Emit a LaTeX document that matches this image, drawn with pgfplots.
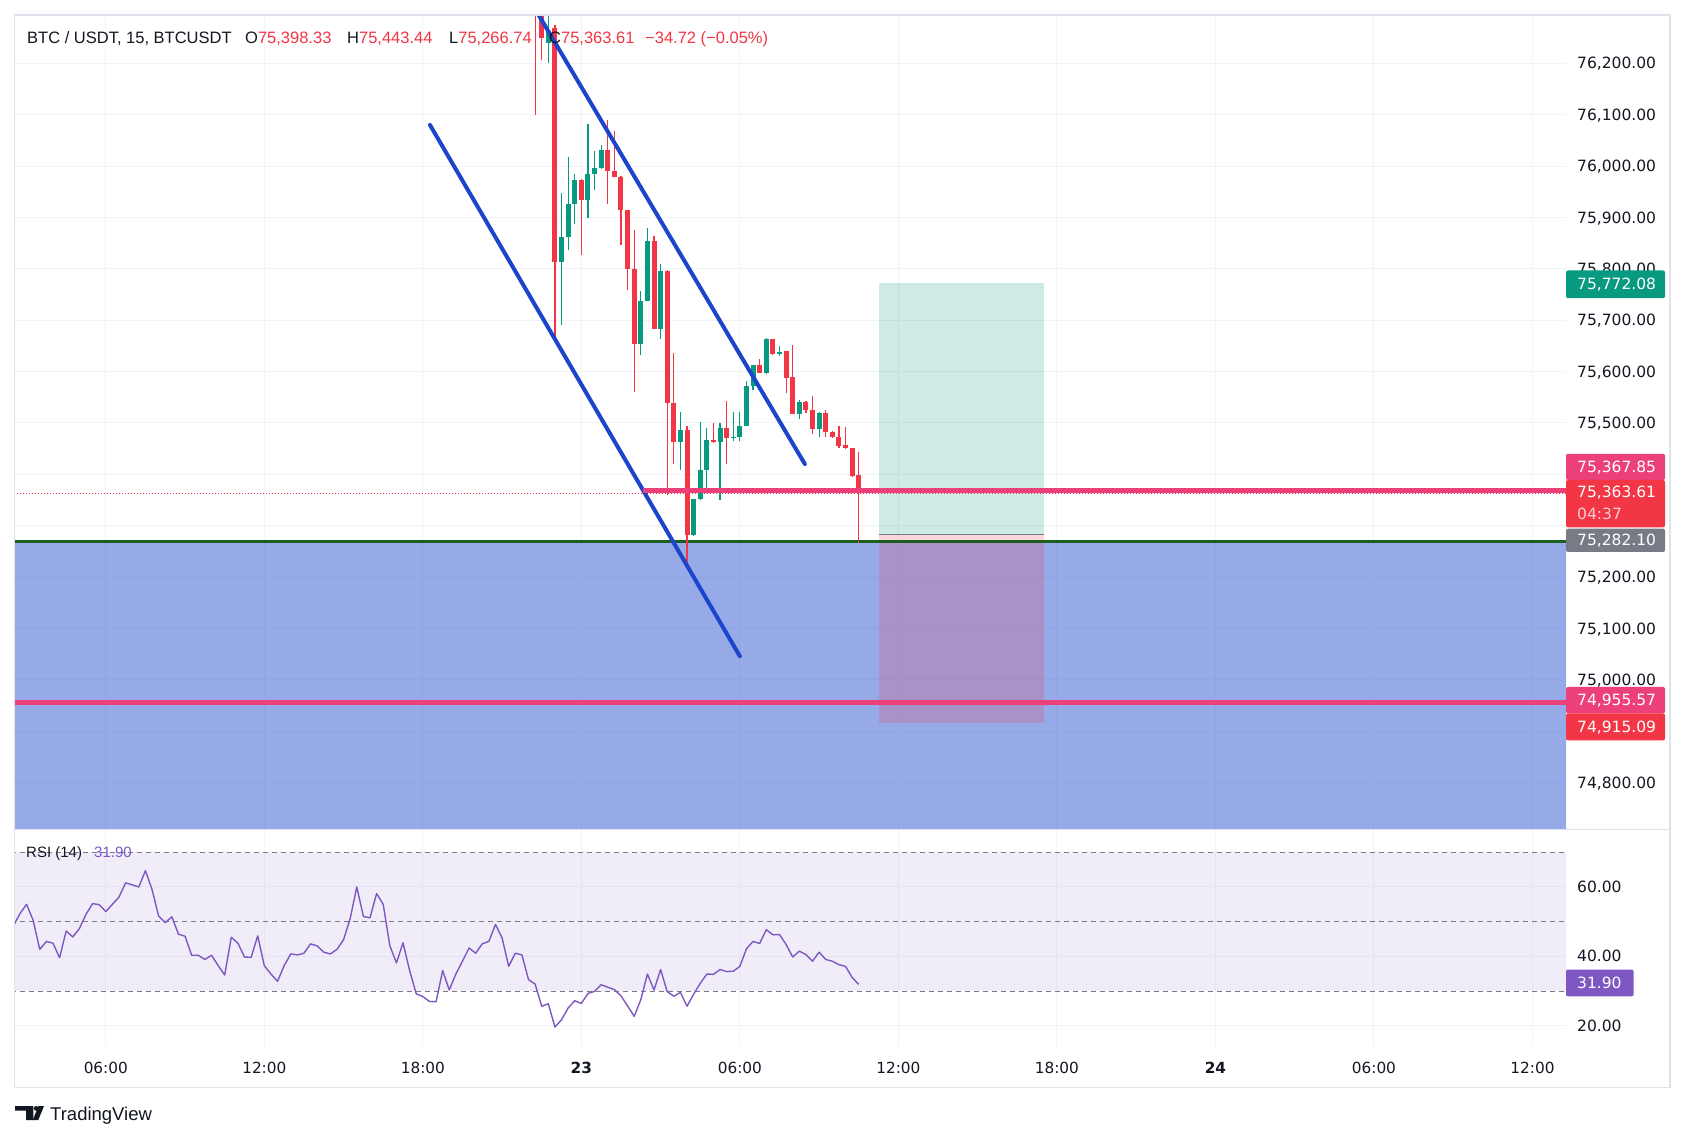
\documentclass[border=0pt]{standalone}
\usepackage{fontspec}
\setmainfont{DejaVu Sans}
\newfontfamily\lib{Liberation Sans}
\usepackage{pgfplots}
\pgfplotsset{compat=1.18}
\usepackage{pgfplotstable}

\definecolor{tvgreen}{RGB}{8,153,129}
\definecolor{tvred}{RGB}{242,54,69}
\definecolor{tvpink}{RGB}{236,64,122}
\definecolor{tvblue}{RGB}{28,68,204}
\definecolor{zoneblue}{RGB}{41,82,208}
\definecolor{gridc}{RGB}{240,243,250}
\definecolor{borderc}{RGB}{224,227,235}
\definecolor{txt}{RGB}{19,23,34}
\definecolor{tvgray}{RGB}{120,123,134}
\definecolor{rsic}{RGB}{126,87,194}
\definecolor{darkgreen}{RGB}{27,94,32}

% 15-minute candles, t in hours from 22 Apr 00:00
\pgfplotstableread{
t o h l c
22.75 76239 76300 76200 76262
23.25 75813 75948 75691 75861
23.5 75861 76018 75836 75927
23.75 75927 75985 75887 75973
24.25 75933 76081 75898 75984
24.5 75984 76029 75953 75996
24.75 75996 76041 75995 76032
26.25 75654 75756 75632 75737
26.5 75737 75880 75737 75855
27.0 75682 75810 75663 75796
27.75 75463 75521 75409 75486
28.25 75282 75352 75280 75352
28.5 75352 75502 75350 75408
28.75 75408 75490 75371 75467
29.25 75462 75500 75351 75491
29.75 75470 75521 75464 75472
30.0 75472 75521 75464 75495
30.25 75495 75581 75494 75572
30.5 75572 75612 75565 75612
31.0 75598 75666 75596 75663
31.5 75635 75649 75631 75638
32.25 75518 75544 75507 75540
33.0 75488 75521 75472 75520
}\greentab

\pgfplotstableread{
t o h l c
22.25 76400 76420 76099 76310
22.5 76310 76330 76206 76249
23.0 76268 76275 75668 75813
24.0 75973 75975 75827 75933
25.0 76032 76089 75926 75991
25.25 75991 76069 75978 75978
25.5 75978 75980 75847 75915
25.75 75915 75915 75758 75800
26.0 75800 75875 75561 75654
26.75 75855 75864 75682 75682
27.25 75796 75798 75360 75539
27.5 75539 75637 75421 75463
28.0 75486 75495 75224 75282
29.0 75467 75500 75460 75462
29.5 75491 75542 75420 75470
30.75 75612 75624 75598 75598
31.25 75663 75664 75633 75635
31.75 75640 75641 75558 75588
32.0 75589 75651 75518 75518
32.5 75540 75542 75520 75525
32.75 75525 75553 75479 75488
33.25 75520 75526 75472 75483
33.5 75483 75484 75471 75472
33.75 75472 75495 75451 75456
34.0 75458 75492 75450 75451
34.25 75451 75452 75395 75397
34.5 75398.33 75443.44 75266.74 75363.61
}\redtab

\pgfplotstableread{
t r
2.5 48.7
2.75 52.3
3.0 55.0
3.25 50.4
3.5 42.0
3.75 44.3
4.0 43.8
4.25 39.6
4.5 47.3
4.75 45.6
5.0 48.0
5.25 52.1
5.5 55.2
5.75 54.9
6.0 52.9
6.25 55.0
6.5 57.1
6.75 61.2
7.0 60.6
7.25 60.0
7.5 64.7
7.75 59.3
8.0 51.6
8.25 49.7
8.5 51.4
8.75 46.4
9.0 45.8
9.25 40.3
9.5 40.3
9.75 39.1
10.0 40.3
10.25 37.4
10.5 34.6
10.75 45.5
11.0 43.8
11.25 39.8
11.5 39.7
11.75 45.9
12.0 37.3
12.25 34.9
12.5 32.8
12.75 37.3
13.0 40.7
13.25 40.4
13.5 40.9
13.75 43.6
14.0 43.0
14.25 41.2
14.5 40.7
14.75 42.0
15.0 44.8
15.25 50.9
15.5 60.0
15.75 51.5
16.0 51.1
16.25 58.1
16.5 55.0
16.75 43.1
17.0 38.1
17.25 43.9
17.5 35.9
17.75 29.2
18.0 28.4
18.25 27.0
18.5 26.9
18.75 35.9
19.0 30.3
19.25 34.9
19.5 38.6
19.75 42.4
20.0 40.9
20.25 43.6
20.5 44.3
20.75 49.2
21.0 45.3
21.25 37.1
21.5 40.9
21.75 40.4
22.0 33.3
22.25 32.0
22.5 25.6
22.75 26.3
23.0 19.6
23.25 21.7
23.5 25.1
23.75 27.2
24.0 26.4
24.25 29.3
24.5 29.9
24.75 31.8
25.0 31.1
25.25 30.4
25.5 28.6
25.75 25.7
26.0 22.7
26.25 27.5
26.5 34.9
26.75 30.3
27.0 36.2
27.25 29.8
27.5 28.5
27.75 29.6
28.0 25.6
28.25 29.1
28.5 32.2
28.75 34.9
29.0 34.8
29.25 36.2
29.5 35.6
29.75 35.7
30.0 37.1
30.25 42.2
30.5 44.3
30.75 43.7
31.0 47.7
31.25 46.2
31.5 46.3
31.75 43.4
32.0 39.8
32.25 41.5
32.5 40.5
32.75 38.6
33.0 41.2
33.25 39.1
33.5 38.6
33.75 37.6
34.0 37.1
34.25 33.9
34.5 31.9
}\rsitab

\newcommand{\pf}{\fontsize{15.5}{18}\selectfont}

\begin{document}
\begin{tikzpicture}[x=1pt,y=1pt]
\fill[white] (0,0) rectangle (1685,1141);

% ---------- main price pane ----------
\begin{axis}[
  at={(15pt,312pt)}, anchor=south west, scale only axis,
  width=1551pt, height=814pt,
  xmin=2.563, xmax=61.27, ymin=74709.7, ymax=76294,
  scaled y ticks=false, scaled x ticks=false,
  axis line style={draw=none}, major tick length=0pt, minor tick length=0pt,
  xtick={6,12,18,24,30,36,42,48,54,60}, xticklabel=\empty,
  ytick={74800,75000,75100,75200,75500,75600,75700,75800,75900,76000,76100,76200},
  yticklabels={{74,800.00},{75,000.00},{75,100.00},{75,200.00},{75,500.00},{75,600.00},{75,700.00},{75,800.00},{75,900.00},{76,000.00},{76,100.00},{76,200.00}},
  minor ytick={74900,75300,75400},
  grid=both,
  major grid style={gridc, line width=1pt},
  minor grid style={gridc, line width=1pt},
  yticklabel pos=right,
  yticklabel style={anchor=base west, inner sep=0pt, xshift=11pt, yshift=-5.6pt, font=\pf, text=txt},
]
% blue zone
\addplot[draw=none, fill=zoneblue, fill opacity=0.486] coordinates {(2.4,75270) (61.4,75270) (61.4,74650) (2.4,74650)};
% long position tool
\addplot[draw=none, fill=tvgreen, fill opacity=0.2] coordinates {(35.25,75772.08) (41.5,75772.08) (41.5,75282.10) (35.25,75282.10)};
\addplot[draw=none, fill=tvred, fill opacity=0.2] coordinates {(35.25,75282.10) (41.5,75282.10) (41.5,74915.09) (35.25,74915.09)};
\addplot[tvgray, line width=1pt] coordinates {(35.25,75282.10) (41.5,75282.10)};
% dark green level
\addplot[darkgreen, line width=3pt] coordinates {(2.4,75270) (61.4,75270)};
% current price dotted line
\addplot[tvred, line width=1pt, dash pattern=on 1pt off 2pt] coordinates {(2.4,75363.61) (61.4,75363.61)};
% candles: wicks
\addplot[tvgreen, line width=1.2pt, quiver={u=0, v=\thisrow{h}-\thisrow{l}}] table[x=t, y=l] \greentab;
\addplot[tvred, line width=1.2pt, quiver={u=0, v=\thisrow{h}-\thisrow{l}}] table[x=t, y=l] \redtab;
% candles: bodies
\addplot[tvgreen, line width=5pt, quiver={u=0, v=\thisrow{c}-\thisrow{o}}] table[x=t, y=o] \greentab;
\addplot[tvred, line width=5pt, quiver={u=0, v=\thisrow{c}-\thisrow{o}}] table[x=t, y=o] \redtab;
% channel
\addplot[tvblue, line width=4pt, line cap=round] coordinates {(18.27,76080) (30.0,75046)};
\addplot[tvblue, line width=4pt, line cap=round] coordinates {(21.9,76336) (32.46,75420)};
% pink levels
\addplot[tvpink, line width=5.3pt] coordinates {(26.35,75367.85) (61.4,75367.85)};
\addplot[tvpink, line width=5.3pt] coordinates {(2.4,74955.57) (61.4,74955.57)};
\end{axis}

% ---------- RSI pane ----------
\begin{axis}[
  at={(15pt,95pt)}, anchor=south west, scale only axis,
  width=1551pt, height=216pt,
  xmin=2.563, xmax=61.27, ymin=14.14, ymax=76.43,
  scaled y ticks=false, scaled x ticks=false,
  axis line style={draw=none}, major tick length=0pt,
  xtick={6,12,18,24,30,36,42,48,54,60},
  xticklabels={06:00,12:00,18:00,\textbf{23},06:00,12:00,18:00,\textbf{24},06:00,12:00},
  xticklabel style={anchor=base, yshift=-27.3pt, font=\fontsize{15.3}{18}\selectfont, text=txt},
  ytick={20,40,60}, yticklabels={20.00,40.00,60.00},
  grid=major, major grid style={gridc, line width=1pt},
  yticklabel pos=right,
  yticklabel style={anchor=base west, inner sep=0pt, xshift=11pt, yshift=-5.6pt, font=\pf, text=txt},
]
\addplot[draw=none, fill=rsic, fill opacity=0.1] coordinates {(2.4,30) (61.4,30) (61.4,70) (2.4,70)};
\addplot[tvgray, line width=1pt, dash pattern=on 5pt off 4pt] coordinates {(2.4,70) (61.4,70)};
\addplot[tvgray, line width=1pt, dash pattern=on 5pt off 4pt] coordinates {(2.4,50) (61.4,50)};
\addplot[tvgray, line width=1pt, dash pattern=on 5pt off 4pt] coordinates {(2.4,30) (61.4,30)};
\addplot[rsic, line width=1.4pt, line join=round] table[x=t, y=r] \rsitab;
\end{axis}

% ---------- frame ----------
\draw[borderc, line width=1.5pt] (14.5,53.3) rectangle (1670,1126);
\draw[borderc, line width=1.5pt] (14.5,311.5) -- (1670,311.5);

% ---------- header ----------
\begin{scope}[every node/.style={anchor=base west, inner sep=0pt, font=\lib\fontsize{16.5}{19}\selectfont}]
\node[text=txt] at (27,1097.3) {BTC / USDT, 15, BTCUSDT};
\node at (245,1097.3) {\textcolor{txt}{O}\textcolor{tvred}{75,398.33}};
\node at (347,1097.3) {\textcolor{txt}{H}\textcolor{tvred}{75,443.44}};
\node at (449,1097.3) {\textcolor{txt}{L}\textcolor{tvred}{75,266.74}};
\node at (549,1097.3) {\textcolor{txt}{C}\textcolor{tvred}{75,363.61}};
\node[text=tvred] at (645,1097.3) {−34.72 (−0.05\%)};
\end{scope}
\begin{scope}[every node/.style={anchor=base west, inner sep=0pt, font=\lib\fontsize{15}{18}\selectfont}]
\node[text=txt] at (26,283.5) {RSI (14)};
\node[text=rsic] at (94,283.5) {31.90};
\end{scope}

% ---------- price scale labels ----------
\begin{scope}[every node/.style={anchor=base west, inner sep=0pt, font=\pf, text=white}]
\fill[tvgreen, rounded corners=2pt] (1566,870.5) rectangle (1665,842.8);
\node at (1577,851.0) {75,772.08};
\fill[tvpink, rounded corners=2pt] (1566,687.2) rectangle (1665,661);
\node at (1577,668.5) {75,367.85};
\fill[tvred, rounded corners=2pt] (1566,661) rectangle (1665,613.7);
\node at (1577,643) {75,363.61};
\node[text=white!75!tvred] at (1577,621.9) {04:37};
\fill[tvgray, rounded corners=2pt] (1566,612.3) rectangle (1665,589);
\node at (1577,595) {75,282.10};
\fill[tvpink, rounded corners=2pt] (1566,454) rectangle (1665,427.5);
\node at (1577,435.1) {74,955.57};
\fill[tvred, rounded corners=2pt] (1566,427.5) rectangle (1665,400.6);
\node at (1577,408.4) {74,915.09};
\fill[rsic, rounded corners=2pt] (1566,171.5) rectangle (1633.6,144.6);
\node at (1577,152.4) {31.90};
\end{scope}

% ---------- TradingView logo ----------
\fill[txt] (15,35) -- (33.3,35) -- (33.3,21) -- (26,21) -- (26,30.3) -- (15,30.3) -- cycle;
\fill[txt] (36.2,32.6) circle (2.4);
\fill[txt] (38.5,35) -- (44,35) -- (38.3,21) -- (32.8,21) -- cycle;
\node[anchor=base west, inner sep=0pt, text=txt, font=\lib\fontsize{18.5}{21}\selectfont] at (50,21) {TradingView};
\end{tikzpicture}
\end{document}
